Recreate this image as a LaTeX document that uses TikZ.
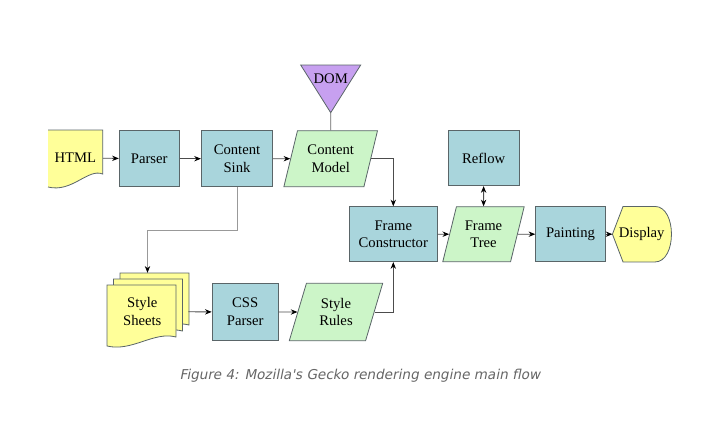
\documentclass[tikz,border=0pt]{standalone}
\usepackage{fontspec}
\setmainfont{Liberation Serif}
\newfontfamily\capfont[FakeSlant=0.2]{DejaVu Sans}
\usepackage{xcolor}
\usetikzlibrary{shapes.geometric, arrows, arrows.meta, calc, backgrounds}

\definecolor{procblue}{HTML}{A9D5DC}
\definecolor{datagreen}{HTML}{CCF5C8}
\definecolor{docyellow}{HTML}{FFFF99}
\definecolor{dompurple}{HTML}{C7A0F0}
\definecolor{edgegray}{HTML}{5A6568}

% one sheet of a stacked document, top left corner at (#1,#2)
\newcommand{\drawsheet}[2]{%
  \filldraw[fill=docyellow, draw=edgegray, line width=0.6pt] (#1,#2) -- (#1+69,#2) -- (#1+69,#2+52)
    .. controls (#1+47,#2+46) and (#1+25,#2+67) .. (#1,#2+61) -- cycle;}

\begin{document}
\begin{tikzpicture}[x=0.75pt, y=-0.75pt, font=\fontsize{11}{13.3}\selectfont]
\tikzstyle{proc} = [rectangle, draw=edgegray, fill=procblue, line width=0.6pt, align=center, inner sep=0pt]
\tikzstyle{data} = [trapezium, trapezium left angle=71, trapezium right angle=109, trapezium stretches=true, draw=edgegray, fill=datagreen, line width=0.6pt, align=center, inner sep=0pt]
\tikzstyle{plain} = [align=center, inner sep=0pt]
\tikzstyle{arrow} = [draw=black!70, line width=0.6pt, ->, >={Stealth[length=5pt, width=4pt, color=black]}]
\tikzstyle{greyarrow} = [draw=black!40, line width=0.6pt, ->, >={Stealth[length=5pt, width=4pt, color=black]}]

\useasboundingbox (0,0) rectangle (721,439);

% Top Row
\node (html) [plain, minimum width=41pt, minimum height=33pt] at (75.4,158) {HTML};
\node (parser) [proc, minimum width=45pt, minimum height=42pt] at (149.2,158.7) {Parser};
\node (sink) [proc, minimum width=53.5pt, minimum height=42pt] at (237,158.7) {Content\\Sink};
\node (model) [data, minimum width=70.5pt, minimum height=42pt] at (330.7,158.7) {Content\\Model};
\node (dom) [plain] at (330.7,79) {DOM};
\coordinate (domtip) at (330.7,112.7);
\node (reflow) [proc, minimum width=53.25pt, minimum height=41.25pt] at (483.7,158.2) {Reflow};

% Middle Row
\node (fc) [proc, minimum width=66pt, minimum height=41.25pt] at (393.3,234.2) {Frame\\Constructor};
\node (tree) [data, minimum width=61.2pt, minimum height=41.25pt] at (483.5,234.2) {Frame\\Tree};
\node (paint) [proc, minimum width=52.2pt, minimum height=41.25pt] at (570.5,234.2) {Painting};
\node (display) [plain, minimum width=44.25pt, minimum height=41.25pt] at (642.2,234.2) {};
\node (displaylbl) [plain] at (641.7,234.2) {Display};

% Bottom Row
\node (sheets) [plain, minimum width=60.75pt, minimum height=58pt] at (147.5,311.7) {};
\node (sheetslbl) [plain] at (142.3,311.7) {Style\\Sheets};
\node (cssp) [proc, minimum width=49.7pt, minimum height=43pt] at (245.2,312) {CSS\\Parser};
\node (rules) [data, minimum width=70.3pt, minimum height=43pt] at (336,312) {Style\\Rules};

% Shapes behind the labels
\begin{scope}[on background layer]
\fill[docyellow] (48,130) -- (102.7,130) -- (102.7,174) .. controls (88,168) and (72,193) .. (48,187) -- cycle;
\draw[edgegray, line width=0.6pt] (48,130) -- (102.7,130) -- (102.7,174) .. controls (88,168) and (72,193) .. (48,187);
\filldraw[fill=dompurple, draw=edgegray, line width=0.6pt] (300.7,65) -- (360.7,65) -- (domtip) -- cycle;
\filldraw[fill=docyellow, draw=edgegray, line width=0.6pt] (display.west) -- ($(display.north west)+(10.6,0)$) -- ($(display.north east)+(-17,0)$)
  .. controls ($(display.north east)+(5,0)$) and ($(display.south east)+(5,0)$) .. ($(display.south east)+(-17,0)$)
  -- ($(display.south west)+(10.6,0)$) -- cycle;
\drawsheet{120}{273}
\drawsheet{113.5}{279}
\drawsheet{107}{285}
\end{scope}

% Main Flow Arrows
\draw [arrow] (html) -- (parser);
\draw [arrow] (parser) -- (sink);
\draw [arrow] (sink) -- (model);
\draw [draw=black!60, line width=0.6pt] (domtip) -- (model.north);
\draw [arrow] (model.east) -| (fc.north);
\draw [arrow] (fc) -- (tree);
\draw [arrow, <->] (reflow) -- (tree);
\draw [arrow] (tree) -- (paint);
\draw [arrow] (paint) -- (display);

% Style Arrows
\draw [greyarrow] (sink.south) -- ++(0,43.3) -| (sheets.north);
\draw [arrow] (sheets) -- (cssp);
\draw [arrow] (cssp) -- (rules);
\draw [arrow] (rules.east) -| (fc.south);

% Caption
\node (caption) [font=\capfont\fontsize{10.2}{12}\selectfont, text=black!60] at (360,375.5) {Figure 4: Mozilla\textquotesingle s Gecko rendering engine main flow};

\end{tikzpicture}
\end{document}
